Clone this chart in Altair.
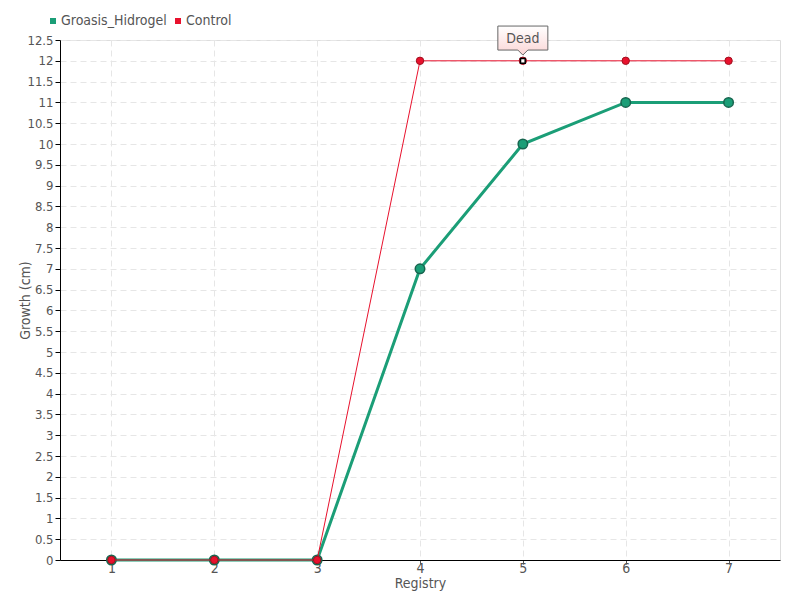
import altair as alt
import pandas as pd

registry = [1, 2, 3, 4, 5, 6, 7]
groasis = [0, 0, 0, 7, 10, 11, 11]
control = [0, 0, 0, 12, 12, 12, 12]
series_names = ["Groasis_Hidrogel", "Control"]
series_colors = ["#1b9e77", "#e8112d"]
y_ticks = [i * 0.5 for i in range(26)]
note_x = [5]
note_y = [12]
note_text = ["Dead"]

FONT = "DejaVu Sans Condensed, Liberation Sans Narrow, sans-serif"

rows = []
for r, g, c in zip(registry, groasis, control):
    rows.append({"Registry": r, "value": g, "series": series_names[0]})
    rows.append({"Registry": r, "value": c, "series": series_names[1]})
df = pd.DataFrame(rows)
note_df = pd.DataFrame({"Registry": note_x, "value": note_y, "label": note_text})

xscale = alt.Scale(domain=[0.5, 7.5], nice=False, zero=False)
yscale = alt.Scale(domain=[0, 12.5], nice=False)
color = alt.Color("series:N", scale=alt.Scale(domain=series_names, range=series_colors),
                  legend=alt.Legend(title=None, orient="none", legendX=-14, legendY=-26,
                                    direction="horizontal", symbolType="square", symbolSize=36,
                                    labelFont=FONT, labelFontSize=14, labelColor="#555",
                                    columnPadding=4, labelOffset=1, symbolStrokeWidth=0))

xax = alt.X("Registry:Q", scale=xscale, title="Registry",
            axis=alt.Axis(values=registry, format="d", grid=True, gridDash=[6, 4], gridColor="#e6e6e6",
                          domainColor="#000", tickColor="#555", tickSize=4,
                          labelPadding=-3, labelFont=FONT, labelFontSize=14, labelColor="#555",
                          titleFont=FONT, titleFontSize=14, titleColor="#555", titleFontWeight="normal",
                          titlePadding=1))
yax = alt.Y("value:Q", scale=yscale, title="Growth (cm)",
            axis=alt.Axis(values=y_ticks, format="~g", grid=True, gridDash=[6, 4], gridColor="#e6e6e6",
                          domainColor="#000", tickColor="#000", tickSize=5, labelPadding=2,
                          labelOverlap=False, labelFont=FONT, labelFontSize=13, labelColor="#555",
                          titleFont=FONT, titleFontSize=14, titleColor="#555", titleFontWeight="normal",
                          titleX=-28, titleY=260))

base = alt.Chart(df)
gdf = base.transform_filter(alt.datum.series == series_names[0])
cdf = base.transform_filter(alt.datum.series == series_names[1])

g_line = gdf.mark_line(strokeWidth=3, color=series_colors[0]).encode(x=xax, y=yax)
g_pts = gdf.mark_point(filled=True, size=90, opacity=1, stroke="#17654f", strokeWidth=1.5,
                       shape="circle").encode(x=xax, y=yax, color=color)
c_line = cdf.mark_line(strokeWidth=1, color=series_colors[1]).encode(x=xax, y=yax)
c_pts = cdf.mark_point(filled=True, size=55, opacity=1, stroke="#a0101f", strokeWidth=1,
                       shape="circle").encode(x=xax, y=yax, color=color)

hl = alt.Chart(note_df).mark_point(shape="square", filled=True, size=22, fill="white",
                                   stroke="black", strokeWidth=1.5, opacity=1).encode(x=xax, y=yax)

callout_path = "M-1,-1.39 L1,-1.39 L1,-0.43 L0.2,-0.43 L0,-0.23 L-0.2,-0.43 L-1,-0.43 Z"
box = alt.Chart(note_df).mark_point(
    shape=callout_path, size=2500, filled=True, opacity=1, stroke="#666", strokeWidth=1,
    fill=alt.Gradient(gradient="linear", x1=0, y1=0, x2=0, y2=1,
                      stops=[alt.GradientStop(color="#ffffff", offset=0),
                             alt.GradientStop(color="#fbd5d5", offset=1)])).encode(x=xax, y=yax)
txt = alt.Chart(note_df).mark_text(font=FONT, fontSize=14, color="#555", dy=-22).encode(
    x=xax, y=yax, text="label:N")

chart = alt.layer(g_line, g_pts, c_line, c_pts, hl, box, txt).properties(
    width=720, height=520,
    autosize=alt.AutoSizeParams(type="none"),
    padding={"left": 52, "top": 32, "right": 12, "bottom": 32},
).configure_view(stroke=None).configure(background="white")

chart.save("out.html", embed_options={"renderer": "svg", "actions": False})
